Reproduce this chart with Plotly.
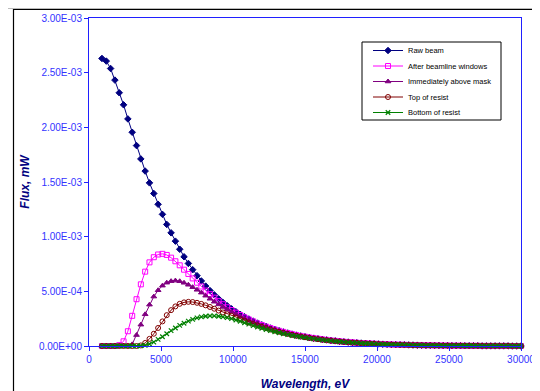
import plotly.graph_objects as go

# Photon energy grid (eV)
energy = list(range(900, 30001, 300))

# Flux values in units of 1e-3 mW
raw_beam = [2.630, 2.606, 2.538, 2.432, 2.316, 2.206, 2.077, 1.955, 1.833, 1.711,
            1.600, 1.492, 1.395, 1.296, 1.204, 1.112, 1.035, 0.959, 0.885, 0.816,
            0.755, 0.698, 0.643, 0.595, 0.548, 0.507, 0.468, 0.432, 0.399, 0.368,
            0.340, 0.314, 0.290, 0.268, 0.247, 0.228, 0.210, 0.194, 0.179, 0.165,
            0.152, 0.140, 0.129, 0.119, 0.109, 0.100, 0.092, 0.085, 0.078, 0.072,
            0.066, 0.061, 0.056, 0.051, 0.047, 0.043, 0.039, 0.036, 0.033, 0.030,
            0.027, 0.025, 0.023, 0.021, 0.019, 0.017, 0.016, 0.014, 0.013, 0.012,
            0.011, 0.010, 0.009, 0.008, 0.007, 0.006, 0.006, 0.005, 0.005, 0.004,
            0.004, 0.003, 0.003, 0.003, 0.002, 0.002, 0.002, 0.002, 0.001, 0.001,
            0.001, 0.001, 0.001, 0.001, 0.001, 0.000, 0.000, 0.000]

after_windows = [0.000, 0.000, 0.000, 0.000, 0.008, 0.043, 0.135, 0.276, 0.428, 0.564,
                 0.680, 0.765, 0.812, 0.837, 0.843, 0.833, 0.808, 0.775, 0.738, 0.698,
                 0.659, 0.618, 0.579, 0.544, 0.507, 0.474, 0.442, 0.410, 0.382, 0.354,
                 0.329, 0.305, 0.283, 0.262, 0.243, 0.225, 0.207, 0.192, 0.177, 0.164,
                 0.151, 0.139, 0.129, 0.119, 0.109, 0.100, 0.092, 0.085, 0.078, 0.072,
                 0.066, 0.061, 0.056, 0.051, 0.047, 0.043, 0.039, 0.036, 0.033, 0.030,
                 0.027, 0.025, 0.023, 0.021, 0.019, 0.017, 0.016, 0.014, 0.013, 0.012,
                 0.011, 0.010, 0.009, 0.008, 0.007, 0.006, 0.006, 0.005, 0.005, 0.004,
                 0.004, 0.003, 0.003, 0.003, 0.002, 0.002, 0.002, 0.002, 0.001, 0.001,
                 0.001, 0.001, 0.001, 0.001, 0.001, 0.000, 0.000, 0.000]

above_mask = [0.000, 0.000, 0.000, 0.000, 0.000, 0.000, 0.000, 0.015, 0.100, 0.195,
              0.290, 0.378, 0.452, 0.510, 0.552, 0.579, 0.593, 0.598, 0.592, 0.578,
              0.560, 0.538, 0.514, 0.488, 0.460, 0.432, 0.405, 0.380, 0.357, 0.335,
              0.313, 0.292, 0.272, 0.253, 0.236, 0.219, 0.203, 0.188, 0.174, 0.161,
              0.149, 0.138, 0.128, 0.118, 0.108, 0.099, 0.091, 0.084, 0.077, 0.071,
              0.066, 0.061, 0.056, 0.051, 0.047, 0.043, 0.039, 0.036, 0.033, 0.030,
              0.027, 0.025, 0.023, 0.021, 0.019, 0.017, 0.016, 0.014, 0.013, 0.012,
              0.011, 0.010, 0.009, 0.008, 0.007, 0.006, 0.006, 0.005, 0.005, 0.004,
              0.004, 0.003, 0.003, 0.003, 0.002, 0.002, 0.002, 0.002, 0.001, 0.001,
              0.001, 0.001, 0.001, 0.001, 0.001, 0.000, 0.000, 0.000]

top_resist = [0.000, 0.000, 0.000, 0.000, 0.000, 0.000, 0.000, 0.000, 0.000, 0.005,
              0.028, 0.065, 0.112, 0.165, 0.225, 0.282, 0.328, 0.362, 0.386, 0.399,
              0.404, 0.402, 0.395, 0.385, 0.372, 0.357, 0.341, 0.324, 0.307, 0.291,
              0.276, 0.260, 0.245, 0.230, 0.215, 0.201, 0.188, 0.175, 0.163, 0.151,
              0.140, 0.130, 0.120, 0.111, 0.102, 0.094, 0.087, 0.080, 0.074, 0.068,
              0.063, 0.058, 0.053, 0.049, 0.045, 0.041, 0.037, 0.034, 0.031, 0.029,
              0.026, 0.024, 0.022, 0.020, 0.018, 0.016, 0.015, 0.013, 0.012, 0.011,
              0.010, 0.009, 0.008, 0.008, 0.007, 0.006, 0.006, 0.005, 0.005, 0.004,
              0.004, 0.003, 0.003, 0.003, 0.002, 0.002, 0.002, 0.002, 0.001, 0.001,
              0.001, 0.001, 0.001, 0.001, 0.001, 0.000, 0.000, 0.000]

bottom_resist = [0.000, 0.000, 0.000, 0.000, 0.000, 0.000, 0.000, 0.000, 0.000, 0.002,
                 0.006, 0.018, 0.036, 0.060, 0.085, 0.112, 0.140, 0.165, 0.188, 0.208,
                 0.228, 0.244, 0.257, 0.266, 0.272, 0.275, 0.275, 0.272, 0.267, 0.259,
                 0.250, 0.238, 0.226, 0.213, 0.200, 0.187, 0.174, 0.162, 0.151, 0.140,
                 0.130, 0.121, 0.112, 0.104, 0.096, 0.089, 0.082, 0.076, 0.070, 0.065,
                 0.060, 0.055, 0.051, 0.047, 0.043, 0.039, 0.036, 0.033, 0.030, 0.028,
                 0.025, 0.023, 0.021, 0.019, 0.017, 0.016, 0.014, 0.013, 0.012, 0.011,
                 0.010, 0.009, 0.008, 0.007, 0.007, 0.006, 0.005, 0.005, 0.004, 0.004,
                 0.004, 0.003, 0.003, 0.003, 0.002, 0.002, 0.002, 0.001, 0.001, 0.001,
                 0.001, 0.001, 0.001, 0.001, 0.001, 0.000, 0.000, 0.000]

series_names = ["Raw beam", "After beamline windows", "Immediately above mask",
                "Top of resist", "Bottom of resist"]

y_tickvals = [0, 0.0005, 0.001, 0.0015, 0.002, 0.0025, 0.003]
y_ticktext = ["0.00E+00", "5.00E-04", "1.00E-03", "1.50E-03", "2.00E-03", "2.50E-03", "3.00E-03"]
x_tickvals = [0, 5000, 10000, 15000, 20000, 25000, 30000]
x_ticktext = ["0", "5000", "10000", "15000", "20000", "25000", "30000"]

styles = [
    dict(color="#000080", symbol="diamond", size=5),
    dict(color="#FF00FF", symbol="square-open", size=5),
    dict(color="#800080", symbol="triangle-up", size=5),
    dict(color="#800000", symbol="circle-open", size=5),
    dict(color="#008000", symbol="x-thin", size=4.5),
]

data = [raw_beam, after_windows, above_mask, top_resist, bottom_resist]

# The page body adds an 8px margin, so figure pixels = screen pixels - 8
OFF = 8
W, H = 540 - OFF, 391 - OFF
L, R, T, B = 89 - OFF, 521 - OFF, 18 - OFF, 346 - OFF
pw, ph = R - L, B - T

def px(xs):
    return (xs - OFF - L) / pw

def py(ys):
    return (B - (ys - OFF)) / ph

legend_ids = ["legend", "legend2", "legend3", "legend4", "legend5"]
legend_rows = [50.5, 66, 81.5, 97, 112.5]

fig = go.Figure()
for name, vals, st, lid in zip(series_names, data, styles, legend_ids):
    marker = dict(symbol=st["symbol"], size=st["size"], color=st["color"],
                  line=dict(color=st["color"], width=1.2 if st["symbol"] == "x-thin" else 1))
    fig.add_trace(go.Scatter(
        x=energy, y=[v * 1e-3 for v in vals], name=name, mode="lines+markers",
        line=dict(color=st["color"], width=1), marker=marker, cliponaxis=False,
        legend=lid))

legend_layout = {}
for lid, row in zip(legend_ids, legend_rows):
    legend_layout[lid] = dict(x=px(368), y=py(row), xanchor="left", yanchor="middle",
                              bgcolor="rgba(0,0,0,0)", borderwidth=0,
                              font=dict(size=7.5, color="black"), itemwidth=30)

fig.update_layout(
    width=W, height=H,
    margin=dict(l=L, r=W - R, t=T, b=H - B, pad=0, autoexpand=False),
    paper_bgcolor="white", plot_bgcolor="white",
    font=dict(family="Liberation Sans, Arial, sans-serif"),
    showlegend=True,
    shapes=[
        dict(type="rect", xref="paper", yref="paper", x0=px(13.5), x1=px(538.5),
             y0=py(9.5), y1=py(400), line=dict(color="black", width=1.2),
             fillcolor="rgba(0,0,0,0)", layer="below"),
        dict(type="line", xref="paper", yref="paper", x0=px(0), x1=px(540),
             y0=py(8.3), y1=py(8.3), line=dict(color="#BBBBBB", width=1.2)),
        dict(type="rect", xref="paper", yref="paper", x0=px(362), x1=px(501),
             y0=py(42), y1=py(120), line=dict(color="black", width=1),
             fillcolor="white", layer="above"),
    ],
    **legend_layout,
)

fig.update_xaxes(range=[0, 30000], tickvals=x_tickvals, ticktext=x_ticktext,
                 automargin=False,
                 showline=True, linecolor="#2020FF", linewidth=1, mirror=True,
                 ticks="outside", ticklen=4, tickcolor="#2020FF", showgrid=False,
                 zeroline=False, tickfont=dict(size=10, color="#3333FF"),
                 title=dict(text="<b><i>Wavelength, eV</i></b>", standoff=15,
                            font=dict(size=12, color="#000080")))
fig.update_yaxes(range=[0, 0.003], tickvals=y_tickvals, ticktext=y_ticktext,
                 automargin=False,
                 showline=True, linecolor="#2020FF", linewidth=1, mirror=True,
                 ticks="outside", ticklen=4, tickcolor="#2020FF", showgrid=False,
                 zeroline=False, tickfont=dict(size=10, color="#3333FF"),
                 title=dict(text="<b><i>Flux, mW</i></b>", standoff=6,
                            font=dict(size=12, color="#000080")))

fig.write_html("out.html")
